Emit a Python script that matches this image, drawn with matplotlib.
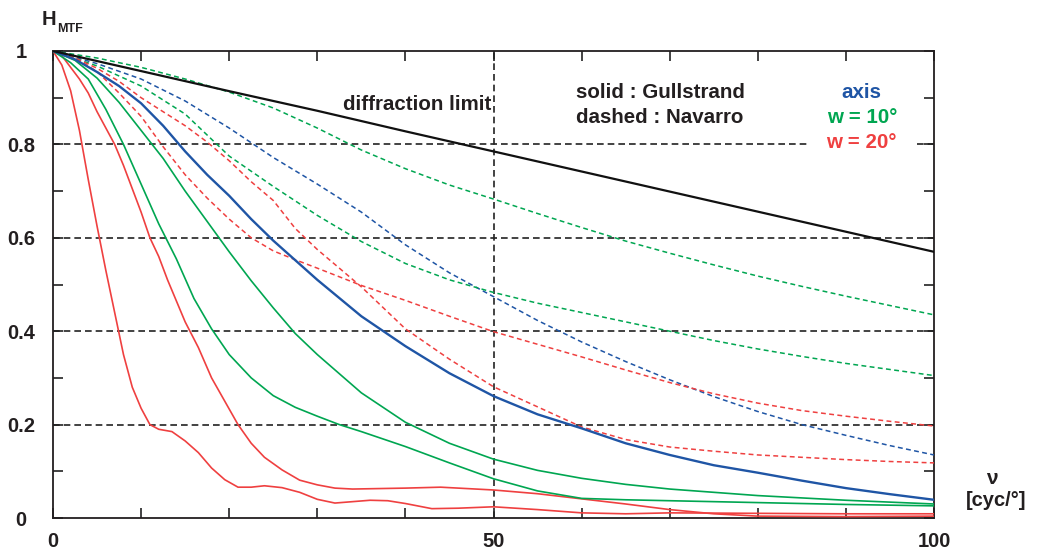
"""
MTF curves of the eye models: Gullstrand (solid) and Navarro (dashed),
on axis and at field angles w = 10 deg and w = 20 deg, with the diffraction limit.
"""
import numpy as np
import matplotlib
matplotlib.use('Agg')
from matplotlib import pyplot as plt

plt.rcParams['font.family'] = ['Liberation Sans', 'DejaVu Sans']
plt.rcParams['font.weight'] = 'bold'

#################################################
# data  (nu in cyc/deg, H_MTF)
#################################################
nu_diff = [0, 10, 20, 30, 40, 50, 60, 70, 80, 90, 100]
h_diff = [1.0, 0.957, 0.914, 0.872, 0.828, 0.785, 0.742, 0.699, 0.656, 0.613, 0.57]

# Gullstrand, axis
nu_gul_axis = [0, 2.5, 5, 7.5, 10, 12.5, 15, 17.5, 20, 22.5, 25, 27.5, 30, 35, 40,
               45, 50, 55, 60, 65, 70, 75, 80, 85, 90, 95, 100]
h_gul_axis = [1.0, 0.982, 0.955, 0.925, 0.888, 0.84, 0.785, 0.735, 0.69, 0.64, 0.594,
              0.552, 0.51, 0.432, 0.368, 0.31, 0.261, 0.222, 0.192, 0.16, 0.135, 0.113,
              0.097, 0.08, 0.064, 0.051, 0.039]

# Navarro, axis
nu_nav_axis = [0, 5, 10, 15, 20, 25, 30, 35, 40, 45, 50, 55, 60, 65, 70, 75, 80, 85, 90, 95, 100]
h_nav_axis = [1.0, 0.973, 0.94, 0.893, 0.835, 0.772, 0.715, 0.655, 0.585, 0.525, 0.474,
              0.423, 0.377, 0.335, 0.296, 0.26, 0.228, 0.2, 0.177, 0.155, 0.135]

# Gullstrand, w = 10
nu_gul_10a = [0, 2, 4, 6, 8, 10, 12, 14, 16, 18, 20, 22.5, 25, 27.5, 30, 32.5, 35, 40,
              45, 50, 55, 60, 65, 70, 80, 90, 100]
h_gul_10a = [1.0, 0.975, 0.94, 0.875, 0.8, 0.715, 0.63, 0.555, 0.47, 0.405, 0.35, 0.3,
             0.262, 0.237, 0.218, 0.2, 0.185, 0.153, 0.118, 0.084, 0.058, 0.042, 0.039,
             0.037, 0.033, 0.029, 0.026]
nu_gul_10b = [0, 2.5, 5, 7.5, 10, 12.5, 15, 17.5, 20, 22.5, 25, 27.5, 30, 35, 40, 45, 50,
              55, 60, 65, 70, 80, 90, 100]
h_gul_10b = [1.0, 0.98, 0.942, 0.89, 0.83, 0.77, 0.7, 0.635, 0.57, 0.508, 0.45, 0.395,
             0.35, 0.268, 0.205, 0.16, 0.126, 0.102, 0.085, 0.072, 0.062, 0.048, 0.038, 0.03]

# Navarro, w = 10
nu_nav_10 = [0, 5, 10, 15, 20, 25, 30, 35, 40, 45, 50, 55, 60, 65, 70, 75, 80, 85, 90, 95, 100]
h_nav_10a = [1.0, 0.985, 0.965, 0.94, 0.912, 0.878, 0.835, 0.788, 0.748, 0.713, 0.683,
             0.652, 0.622, 0.593, 0.567, 0.542, 0.518, 0.496, 0.475, 0.455, 0.435]
h_nav_10b = [1.0, 0.968, 0.925, 0.865, 0.775, 0.71, 0.648, 0.592, 0.545, 0.51, 0.483,
             0.46, 0.44, 0.42, 0.4, 0.38, 0.362, 0.346, 0.331, 0.318, 0.305]

# Gullstrand, w = 20
nu_gul_20a = [0, 1, 2, 3, 4, 5, 6, 7, 8, 9, 10, 11, 12, 13.5, 15, 16.5, 18, 19.5, 21,
              22.5, 24, 26, 28, 30, 32, 34, 36, 38, 40, 43, 46, 50, 55, 60, 65, 70, 80, 90, 100]
h_gul_20a = [1.0, 0.97, 0.915, 0.83, 0.725, 0.625, 0.53, 0.44, 0.35, 0.28, 0.235, 0.2,
             0.19, 0.185, 0.165, 0.14, 0.107, 0.082, 0.066, 0.066, 0.069, 0.065, 0.055,
             0.04, 0.032, 0.035, 0.038, 0.037, 0.031, 0.02, 0.021, 0.024, 0.018, 0.011,
             0.009, 0.011, 0.01, 0.009, 0.009]
nu_gul_20b = [0, 1, 2, 3, 4, 5, 6, 7, 8, 9, 10, 11, 12, 13, 14, 15, 16.5, 18, 19.5, 21,
              22.5, 24, 26, 28, 30, 32, 34, 37, 40, 44, 50, 55, 60, 65, 70, 75, 80, 90, 100]
h_gul_20b = [1.0, 0.99, 0.965, 0.94, 0.91, 0.87, 0.835, 0.8, 0.755, 0.705, 0.655, 0.6,
             0.56, 0.51, 0.465, 0.42, 0.365, 0.3, 0.25, 0.2, 0.16, 0.13, 0.103, 0.081,
             0.071, 0.064, 0.062, 0.063, 0.064, 0.066, 0.06, 0.052, 0.041, 0.03, 0.018,
             0.009, 0.004, 0.003, 0.004]

# Navarro, w = 20
nu_nav_20a = [0, 2.5, 5, 7.5, 10, 12.5, 15, 17.5, 20, 22.5, 25, 27.5, 30, 35, 40, 45, 50,
              55, 60, 65, 70, 75, 80, 85, 90, 95, 100]
h_nav_20a = [1.0, 0.985, 0.956, 0.91, 0.86, 0.795, 0.735, 0.685, 0.64, 0.6, 0.572, 0.553,
             0.535, 0.498, 0.466, 0.432, 0.399, 0.372, 0.345, 0.317, 0.29, 0.266, 0.246,
             0.23, 0.218, 0.207, 0.197]
nu_nav_20b = [0, 2.5, 5, 7.5, 10, 12.5, 15, 17.5, 20, 22.5, 25, 27.5, 30, 32.5, 35, 37.5,
              40, 45, 50, 55, 60, 65, 70, 75, 80, 85, 90, 95, 100]
h_nav_20b = [1.0, 0.985, 0.963, 0.935, 0.9, 0.87, 0.84, 0.805, 0.765, 0.72, 0.68, 0.62,
             0.575, 0.535, 0.495, 0.45, 0.405, 0.34, 0.281, 0.238, 0.195, 0.168, 0.152,
             0.143, 0.135, 0.13, 0.125, 0.121, 0.118]

x_ticks = [0, 10, 20, 30, 40, 50, 60, 70, 80, 90, 100]
x_ticklabels = ['0', '', '', '', '', '50', '', '', '', '', '100']
y_ticks = [0, 0.1, 0.2, 0.3, 0.4, 0.5, 0.6, 0.7, 0.8, 0.9, 1.0]
y_ticklabels = ['0', '', '0.2', '', '0.4', '', '0.6', '', '0.8', '', '1']
grid_y = [0.2, 0.4, 0.6, 0.8]
grid_x = [50]

#colors
BLUE = '#1f55a5'
GREEN = '#00a651'
RED = '#ef4040'
INK = '#231f20'
DASH = (0, (3.2, 2.2))
GRID_DASH = (0, (4, 2.4))

fig = plt.figure(figsize=(10.37, 5.52), dpi=100)
ax = fig.add_axes([53/1037, 34/552, 881/1037, 467/552])

# grid
for gy in grid_y:
    ax.axhline(gy, color='#222222', lw=1.2, ls=GRID_DASH, zorder=1)
for gx in grid_x:
    ax.axvline(gx, color='#222222', lw=1.2, ls=GRID_DASH, zorder=1)

# Navarro (dashed)
ax.plot(nu_nav_axis, h_nav_axis, color=BLUE, lw=1.1, ls=DASH, zorder=3)
ax.plot(nu_nav_10, h_nav_10a, color=GREEN, lw=1.1, ls=DASH, zorder=3)
ax.plot(nu_nav_10, h_nav_10b, color=GREEN, lw=1.1, ls=DASH, zorder=3)
ax.plot(nu_nav_20a, h_nav_20a, color=RED, lw=1.1, ls=DASH, zorder=3)
ax.plot(nu_nav_20b, h_nav_20b, color=RED, lw=1.1, ls=DASH, zorder=3)

# Gullstrand (solid)
ax.plot(nu_gul_20a, h_gul_20a, color=RED, lw=1.2, zorder=3)
ax.plot(nu_gul_20b, h_gul_20b, color=RED, lw=1.2, zorder=3)
ax.plot(nu_gul_10a, h_gul_10a, color=GREEN, lw=1.2, zorder=3)
ax.plot(nu_gul_10b, h_gul_10b, color=GREEN, lw=1.2, zorder=3)
ax.plot(nu_gul_axis, h_gul_axis, color=BLUE, lw=1.7, zorder=3)

# diffraction limit
ax.plot(nu_diff, h_diff, color='#111111', lw=1.6, zorder=3)

ax.set_xlim(0, 100)
ax.set_ylim(0, 1)
ax.set_xticks(x_ticks)
ax.set_xticklabels(x_ticklabels)
ax.set_yticks(y_ticks)
ax.set_yticklabels(y_ticklabels)
ax.tick_params(axis='both', direction='in', length=7.5, width=1.2, color='#222222',
               top=True, right=True, labelsize=14.5)
ax.tick_params(axis='x', pad=10)
ax.tick_params(axis='y', pad=23)
for lab in ax.get_yticklabels():
    lab.set_horizontalalignment('center')
for lab in ax.get_xticklabels() + ax.get_yticklabels():
    lab.set_fontweight('bold')
    lab.set_color(INK)
for sp in ax.spines.values():
    sp.set_linewidth(1.3)
    sp.set_color(INK)

# annotations
TXT = dict(fontsize=14.8, fontweight='bold', ha='center', va='baseline')
ax.text(41.3, 0.874, 'diffraction limit', color=INK, zorder=4, **TXT)
ax.text(68.9, 0.899, 'solid : Gullstrand', color=INK, zorder=4, **TXT)
ax.text(68.9, 0.846, 'dashed : Navarro', color=INK, zorder=4, **TXT)
ax.text(91.8, 0.899, 'axis', color=BLUE, zorder=4, **TXT)
ax.text(91.8, 0.846, 'w = 10°', color=GREEN, zorder=4, **TXT)
ax.text(91.8, 0.792, 'w = 20°', color=RED, zorder=2,
        bbox=dict(facecolor='white', edgecolor='none', pad=13), **TXT)

# axis labels
fig.text(42/1037, 1 - 25/552, 'H', fontsize=14.5, fontweight='bold',
         ha='left', va='baseline', color=INK)
fig.text(57/1037, 1 - 32/552, 'MTF', fontsize=9, fontweight='bold',
         ha='left', va='baseline', color=INK)
fig.text(992/1037, 1 - 478/552, 'ν', fontsize=15, fontweight='bold',
         ha='center', va='center', color=INK)
fig.text(996/1037, 1 - 501/552, '[cyc/°]', fontsize=14.5, fontweight='bold',
         ha='center', va='center', color=INK)

fig.savefig('out.png', dpi=100)
